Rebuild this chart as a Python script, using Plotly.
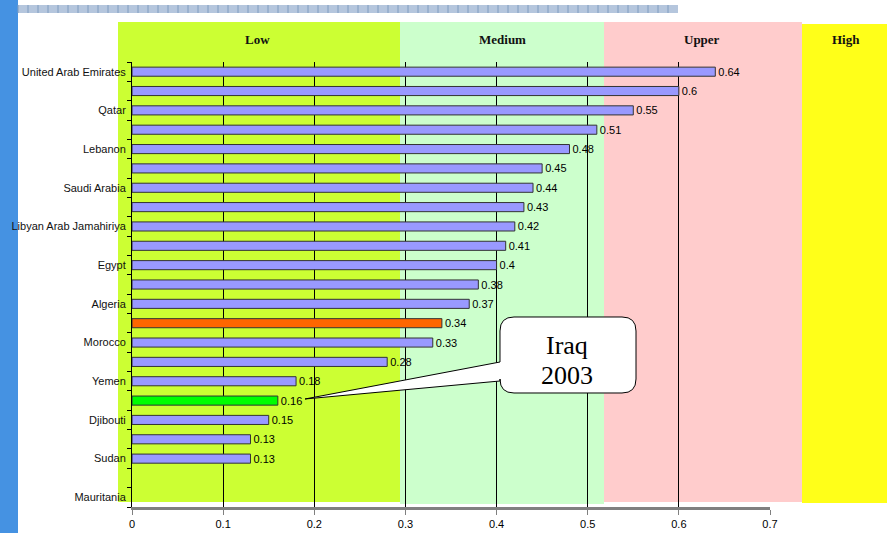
import plotly.graph_objects as go

# ---- data ----
row_ids = [f"r{i}" for i in range(23)]
row_labels = ["United Arab Emirates", "", "Qatar", "", "Lebanon", "", "Saudi Arabia", "",
              "Libyan Arab Jamahiriya", "", "Egypt", "", "Algeria", "", "Morocco", "",
              "Yemen", "", "Djibouti", "", "Sudan", "", "Mauritania"]
values = [0.64, 0.6, 0.55, 0.51, 0.48, 0.45, 0.44, 0.43, 0.42, 0.41, 0.4, 0.38, 0.37,
          0.34, 0.33, 0.28, 0.18, 0.16, 0.15, 0.13, 0.13, None, None]
highlight = {13: "#FF6600", 17: "#00FF00"}
band_names = ["Low", "Medium", "Upper", "High"]
callout_lines = ["Iraq", "2003"]
x_ticks = [0, 0.1, 0.2, 0.3, 0.4, 0.5, 0.6, 0.7]

W, H = 887, 533
L, R, T, B = 132, 770, 62, 507  # plot area in pixels


def px(x):
    return (x - L) / (R - L)


def py(y):
    return (B - y) / (B - T)


colors = [highlight.get(i, "#9999FF") for i in range(len(values))]
texts = ["" if v is None else str(v) for v in values]

fig = go.Figure(go.Bar(
    y=row_ids, x=values, orientation="h",
    marker=dict(color=colors, line=dict(color="#333333", width=1)),
    text=texts, textposition="outside", cliponaxis=False, constraintext="none",
    textfont=dict(family="Liberation Sans, Arial", size=11, color="#000000"),
    width=0.47,
))

shapes = []
# left blue strip
shapes.append(dict(type="rect", xref="paper", yref="paper", x0=px(0), x1=px(18), y0=py(533), y1=py(0),
                   fillcolor="#4592E2", line=dict(width=0), layer="below"))
# top decorative strip
shapes.append(dict(type="rect", xref="paper", yref="paper", x0=px(18), x1=px(678), y0=py(13), y1=py(5),
                   fillcolor="#B5C6DD", line=dict(width=0), layer="below"))
for xx in range(18, 678, 10):
    shapes.append(dict(type="line", xref="paper", yref="paper", x0=px(xx), x1=px(xx), y0=py(13), y1=py(5),
                       line=dict(color="#7E9CC0", width=1), layer="below"))
# bands
bands = [(118, 400, 22, 502, "#CCFF33"), (400, 604, 22, 504, "#CCFFCC"),
         (604, 802, 22, 502, "#FFCCCC"), (802, 887, 24, 503, "#FFFF19")]
band_cx = [257, 502, 702, 846]
for (x0, x1, y0, y1, c) in bands:
    shapes.append(dict(type="rect", xref="paper", yref="paper", x0=px(x0), x1=px(x1), y0=py(y1), y1=py(y0),
                       fillcolor=c, line=dict(width=0), layer="below"))

# callout
bx0, bx1, by0, by1, r = 500, 636, 317, 393, 14
tip = (305, 399)


def P(x, y):
    return f"{px(x):.5f},{py(y):.5f}"


path = (f"M {P(bx0 + r, by0)} L {P(bx1 - r, by0)} Q {P(bx1, by0)} {P(bx1, by0 + r)} "
        f"L {P(bx1, by1 - r)} Q {P(bx1, by1)} {P(bx1 - r, by1)} "
        f"L {P(bx0 + r, by1)} Q {P(bx0, by1)} {P(bx0, by1 - r)} "
        f"L {P(bx0, 381)} L {P(*tip)} L {P(bx0, 362)} "
        f"L {P(bx0, by0 + r)} Q {P(bx0, by0)} {P(bx0 + r, by0)} Z")
shapes.append(dict(type="path", xref="paper", yref="paper", path=path,
                   fillcolor="#FFFFFF", line=dict(color="#000000", width=1), layer="above"))

annotations = []
for name, cx in zip(band_names, band_cx):
    annotations.append(dict(text=f"<b>{name}</b>", xref="paper", yref="paper", x=px(cx), y=py(39),
                            xanchor="center", yanchor="middle", showarrow=False,
                            font=dict(family="Liberation Serif, Times New Roman", size=13, color="#111111")))
for line_text, ly in zip(callout_lines, [345, 375]):
    annotations.append(dict(text=line_text, xref="paper", yref="paper", x=px(567), y=py(ly),
                            xanchor="center", yanchor="middle", showarrow=False,
                            font=dict(family="Liberation Serif, Times New Roman", size=26, color="#000000")))

fig.update_layout(
    width=W, height=H,
    margin=dict(l=L, r=W - R, t=T, b=H - B, pad=0, autoexpand=False),
    paper_bgcolor="#FFFFFF", plot_bgcolor="rgba(0,0,0,0)",
    showlegend=False, bargap=0.5,
    shapes=shapes, annotations=annotations,
    xaxis=dict(range=[0, 0.7], tickvals=x_ticks, ticktext=[str(t) for t in x_ticks], automargin=False,
               showgrid=True, gridcolor="#000000", gridwidth=1, zeroline=False,
               showline=True, linecolor="#808080", linewidth=3,
               ticks="outside", ticklen=5, tickcolor="#808080", tickwidth=1,
               tickfont=dict(family="Liberation Sans, Arial", size=11, color="#000000")),
    yaxis=dict(type="category", categoryorder="array", categoryarray=row_ids, autorange="reversed",
               tickvals=row_ids, ticktext=row_labels, tickson="boundaries", automargin=False,
               ticks="outside", ticklen=4, tickcolor="#000000", tickwidth=1, ticklabelstandoff=3,
               showline=True, linecolor="#000000", linewidth=1, showgrid=False,
               tickfont=dict(family="Liberation Sans, Arial", size=11, color="#111111")),
    font=dict(family="Liberation Sans, Arial"),
)

fig.write_html("out.html")
